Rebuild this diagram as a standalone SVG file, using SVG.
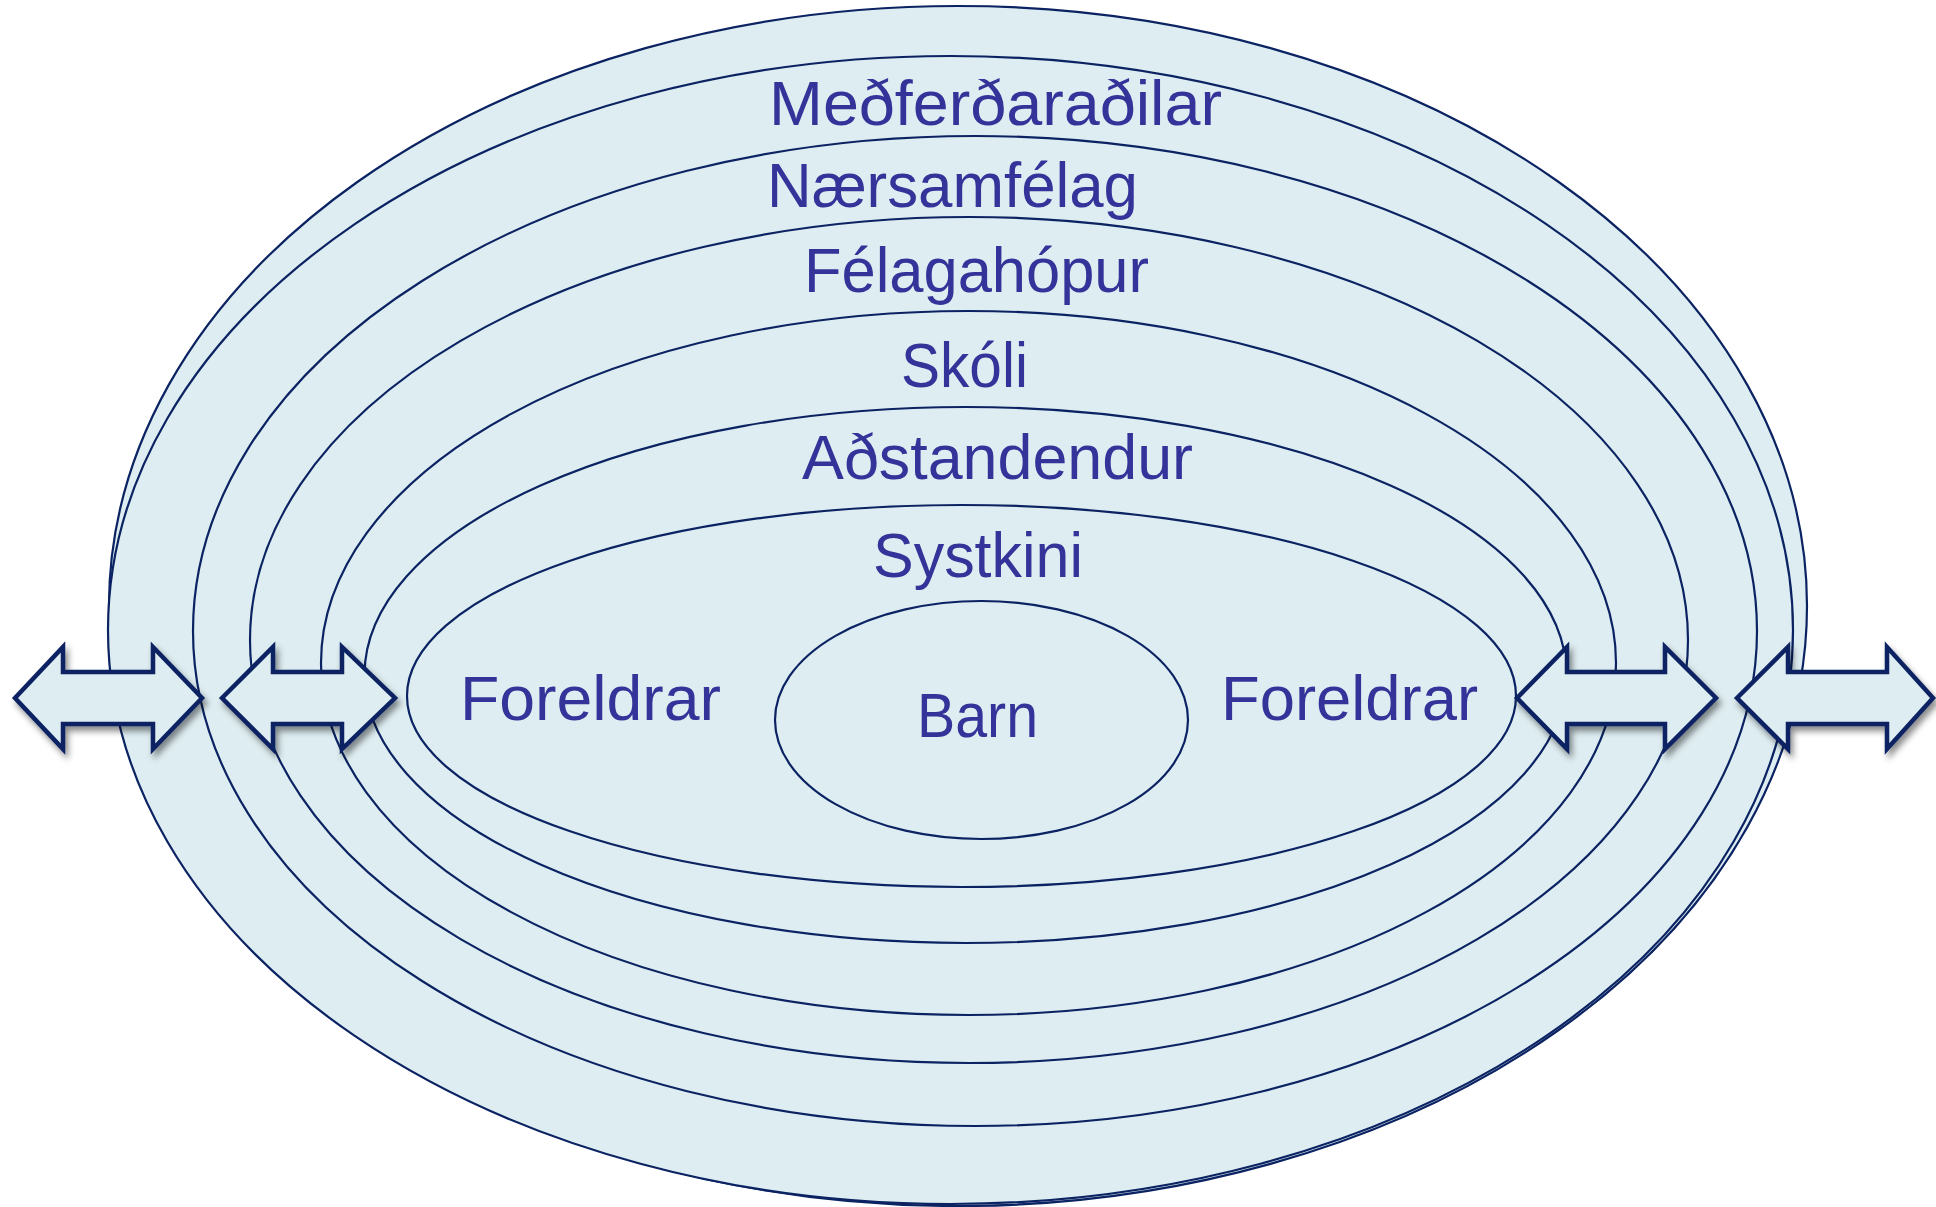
<svg xmlns="http://www.w3.org/2000/svg" width="1936" height="1207" viewBox="0 0 1936 1207">
<style>
.ring{fill:#deedf1;stroke:#0b2362;stroke-width:2.2}
.lbl{font-family:"Liberation Sans","Noto Sans",Arial,sans-serif;font-size:63px;fill:#333399}
.arr{fill:#deedf1;stroke:#0b2362;stroke-width:4.5;stroke-linejoin:miter;filter:url(#sh)}
</style>
<defs>
<filter id="sh" x="-15%" y="-30%" width="140%" height="170%">
<feDropShadow dx="3" dy="5" stdDeviation="3" flood-color="#000" flood-opacity="0.45"/>
</filter>
</defs>
<rect width="1936" height="1207" fill="#ffffff"/>
<g id="ring-outer"><ellipse class="ring" cx="958" cy="606" rx="849" ry="600"/></g>
<g id="ring-medferdaradilar"><ellipse class="ring" cx="950.5" cy="630" rx="842.5" ry="574"/>
<text class="lbl" x="769" y="125" textLength="453" lengthAdjust="spacingAndGlyphs">Meðferðaraðilar</text></g>
<g id="ring-naersamfelag"><ellipse class="ring" cx="975" cy="631" rx="782" ry="495"/>
<text class="lbl" x="767" y="207" textLength="371" lengthAdjust="spacingAndGlyphs">Nærsamfélag</text></g>
<g id="ring-felagahopur"><ellipse class="ring" cx="969" cy="640" rx="719" ry="423"/>
<text class="lbl" x="804" y="292" textLength="345" lengthAdjust="spacingAndGlyphs">Félagahópur</text></g>
<g id="ring-skoli"><ellipse class="ring" cx="968.5" cy="663" rx="647.5" ry="352"/>
<text class="lbl" x="901" y="387" textLength="127" lengthAdjust="spacingAndGlyphs">Skóli</text></g>
<g id="ring-adstandendur"><ellipse class="ring" cx="965.5" cy="675" rx="601" ry="268"/>
<text class="lbl" x="802" y="479" textLength="391" lengthAdjust="spacingAndGlyphs">Aðstandendur</text></g>
<g id="ring-systkini"><ellipse class="ring" cx="961.5" cy="696" rx="554.5" ry="191"/>
<text class="lbl" x="873" y="577" textLength="210" lengthAdjust="spacingAndGlyphs">Systkini</text>
<text class="lbl" x="460" y="720" textLength="261" lengthAdjust="spacingAndGlyphs">Foreldrar</text>
<text class="lbl" x="1221" y="720" textLength="257" lengthAdjust="spacingAndGlyphs">Foreldrar</text></g>
<g id="barn"><ellipse class="ring" cx="981.5" cy="720" rx="206.5" ry="119"/>
<text class="lbl" x="917" y="737" textLength="121" lengthAdjust="spacingAndGlyphs">Barn</text></g>
<g id="connectors">
<path class="arr" d="M15,698 L63,647 L63,672 L153,672 L153,647 L202,698 L153,749 L153,724 L63,724 L63,749 Z"/>
<path class="arr" d="M222,698 L273,647 L273,672 L342,672 L342,647 L395,698 L342,749 L342,724 L273,724 L273,749 Z"/>
<path class="arr" d="M1517,698 L1567,647 L1567,672 L1665,672 L1665,647 L1716,698 L1665,749 L1665,724 L1567,724 L1567,749 Z"/>
<path class="arr" d="M1737,698 L1788,647 L1788,672 L1887,672 L1887,647 L1933,698 L1887,749 L1887,724 L1788,724 L1788,749 Z"/>
</g>
</svg>
